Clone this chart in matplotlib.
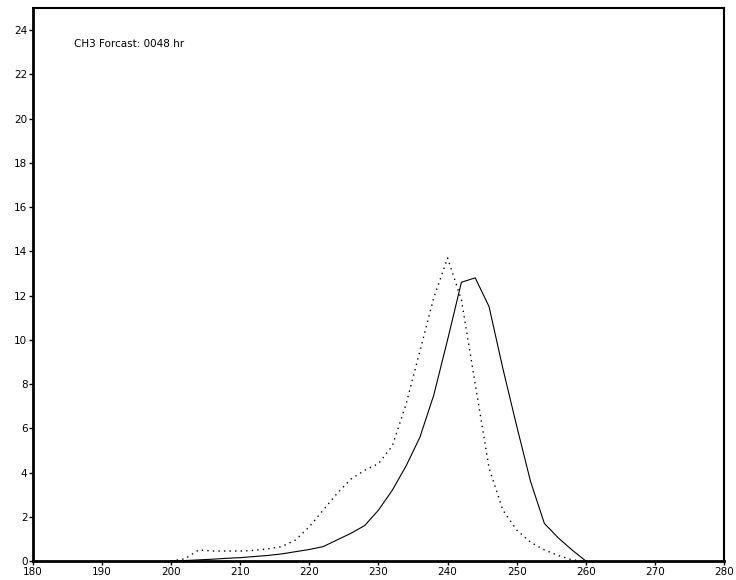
import matplotlib
matplotlib.use("Agg")
from matplotlib import pyplot as plt

# valores (passo de 2 unidades)
temperaturas = [200, 202, 204, 206, 208, 210, 212, 214, 216, 218, 220,
                222, 224, 226, 228, 230, 232, 234, 236, 238, 240,
                242, 244, 246, 248, 250, 252, 254, 256, 258, 260]

# curva continua
solida = [0.0, 0.02, 0.05, 0.08, 0.12, 0.15, 0.2, 0.25, 0.32, 0.42, 0.52,
          0.65, 0.95, 1.25, 1.6, 2.3, 3.2, 4.3, 5.6, 7.5, 10.0,
          12.6, 12.8, 11.5, 8.7, 6.1, 3.6, 1.7, 1.05, 0.5, 0.0]

# curva pontilhada
pontilhada = [0.0, 0.1, 0.5, 0.45, 0.45, 0.45, 0.48, 0.55, 0.65, 0.95, 1.55,
              2.3, 3.05, 3.7, 4.1, 4.4, 5.2, 7.1, 9.5, 11.9, 13.7,
              11.8, 8.0, 4.2, 2.3, 1.4, 0.85, 0.5, 0.25, 0.05, 0.0]

x_ticks = list(range(180, 281, 10))
y_ticks = list(range(0, 25, 2))
titulo = "CH3 Forcast: 0048 hr"


def main():
    fig = plt.figure(figsize=(7.36, 5.8), dpi=100)
    ax = fig.add_axes([0.0448, 0.0328, 0.9389, 0.9534])

    ax.plot(temperaturas, solida, color="black", linewidth=0.8)
    ax.plot(temperaturas, pontilhada, color="black", linewidth=1.0,
            linestyle=(0, (1, 3)))

    ax.set_xlim(180, 280)
    ax.set_ylim(0, 25)
    ax.set_xticks(x_ticks)
    ax.set_yticks(y_ticks)
    ax.tick_params(direction="out", length=3, width=1, labelsize=7.5, pad=1)

    for lado in ["left", "bottom"]:
        ax.spines[lado].set_linewidth(2)
    for lado in ["top", "right"]:
        ax.spines[lado].set_linewidth(1.5)

    ax.text(0.059, 0.935, titulo, transform=ax.transAxes, fontsize=7.5,
            ha="left", va="center")

    fig.savefig("out.png", dpi=100)


if __name__ == "__main__":
    main()
